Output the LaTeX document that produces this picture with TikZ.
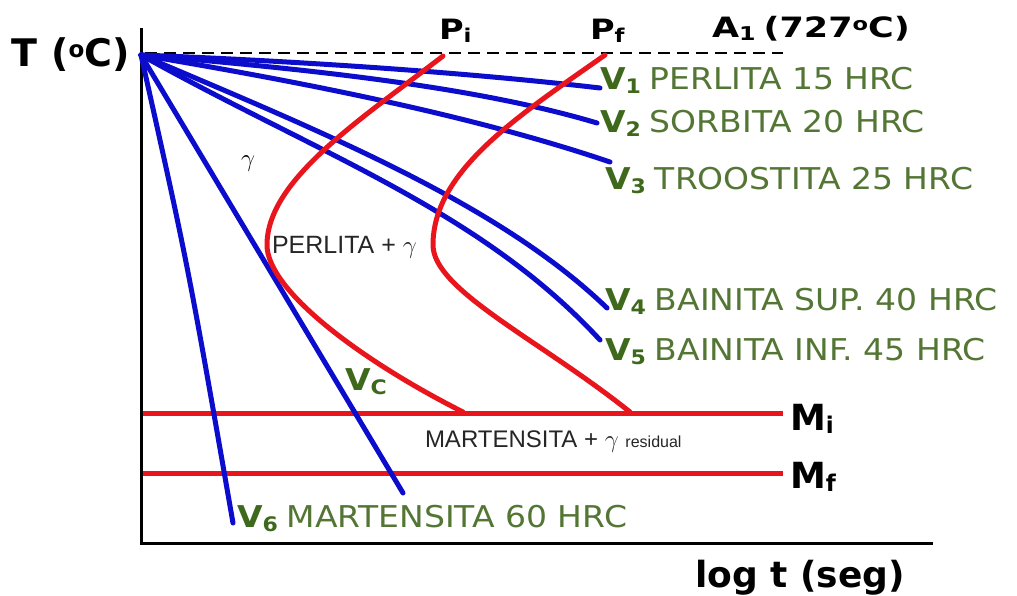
\documentclass[tikz,border=0pt]{standalone}
\usepackage{fontspec}
\setmainfont{DejaVu Sans}
\newfontfamily\labfont[FakeStretch=1.1]{DejaVu Sans}
\newfontfamily\widefont[FakeStretch=1.2]{DejaVu Sans}
\newfontfamily\widerfont[FakeStretch=1.25]{DejaVu Sans}
\newfontfamily\plainfont{Liberation Sans}
\definecolor{cblue}{RGB}{12,12,205}
\definecolor{cred}{RGB}{232,22,28}
\definecolor{gV}{RGB}{62,104,28}
\definecolor{gT}{RGB}{84,118,52}
\newcommand\fs[1]{\fontsize{#1}{#1}\selectfont}
\newcommand\vlab[2]{{\labfont\fs{30}{\color{gV}\bfseries V\raisebox{-4pt}{\fs{20}#1}}\hspace{9pt}{\color{gT}#2}}}
\newcommand\degsup{\raisebox{9pt}{\fs{23}o}}
\tikzset{
  coolline/.style={draw=cblue, line width=5pt, line cap=round},
  ttt/.style={draw=cred, line width=5pt, line cap=round},
  mline/.style={draw=cred, line width=5pt},
  lbl/.style={anchor=base west, inner sep=0pt, outer sep=0pt},
  axisline/.style={draw=black, line width=3pt},
  a1line/.style={draw=black, line width=2.5pt, dash pattern=on 12pt off 7pt},
}
\begin{document}
\begin{tikzpicture}[x=1pt,y=-1pt]
\useasboundingbox (0,0) rectangle (1017,596);
\fill[white] (0,0) rectangle (1017,596);
% coordinates
\coordinate (O) at (141,55);
\coordinate (ytop) at (141,28);
\coordinate (corner) at (141,543);
\coordinate (xend) at (933,543);
\coordinate (dl) at (145,53);
\coordinate (dr) at (783,53);
\coordinate (mil) at (143,413);
\coordinate (mir) at (783,413);
\coordinate (mfl) at (143,473);
\coordinate (mfr) at (783,473);
\coordinate (e1) at (600,88);
\coordinate (e2) at (597,123);
\coordinate (e3) at (610,162);
\coordinate (e4) at (607,308);
\coordinate (e5) at (600,340);
\coordinate (ec) at (403,493);
\coordinate (e6) at (233,523);
\coordinate (pis) at (443,56);
\coordinate (pin) at (267,245);
\coordinate (pie) at (463,412);
\coordinate (pfs) at (605,55);
\coordinate (pfn) at (433,245);
\coordinate (pfe) at (630,412);
% axes
\draw[axisline] (ytop) -- (corner) -- (xend);
\draw[a1line] (dl) -- (dr);
% Mi, Mf
\draw[mline] (mil) -- (mir);
\draw[mline] (mfl) -- (mfr);
% cooling curves
\draw[coolline] (O) .. controls (320,62) and (480,74) .. (e1);
\draw[coolline] (O) .. controls (320,70) and (480,88) .. (e2);
\draw[coolline] (O) .. controls (320,85) and (480,118) .. (e3);
\draw[coolline] (O) .. controls (330,135) and (500,205) .. (e4);
\draw[coolline] (O) .. controls (320,155) and (480,210) .. (e5);
\draw[coolline] (O) -- (ec);
\draw[coolline] (O) .. controls (188,265) .. (e6);
% TTT curves
\draw[ttt] (pis) .. controls (360,120) and (267,180) .. (pin) .. controls (267,290) and (360,360) .. (pie);
\draw[ttt] (pfs) .. controls (520,115) and (433,170) .. (pfn) .. controls (433,290) and (540,340) .. (pfe);
% labels
\node[lbl, font=\bfseries\fs{38}] (tlab) at (12,67) {T (\degsup C)};
\node[lbl, font=\widefont\bfseries\fs{28}] (pilab) at (439,40) {P\raisebox{-3pt}{\fs{19}i}};
\node[lbl, font=\widefont\bfseries\fs{28}] (pflab) at (590,40) {P\raisebox{-3pt}{\fs{19}f}};
\node[lbl, font=\widerfont\bfseries\fs{28}] (a1lab) at (712,38) {A\raisebox{-3pt}{\fs{19}1}\hspace{8pt}(727\raisebox{7pt}{\fs{18}o}C)};
\node[lbl] (v1) at (600,90) {\vlab{1}{PERLITA 15 HRC}};
\node[lbl] (v2) at (600,133) {\vlab{2}{SORBITA 20 HRC}};
\node[lbl] (v3) at (605,190) {\vlab{3}{TROOSTITA 25 HRC}};
\node[lbl] (v4) at (605,310) {\vlab{4}{BAINITA SUP. 40 HRC}};
\node[lbl] (v5) at (605,360) {\vlab{5}{BAINITA INF. 45 HRC}};
\node[lbl] (v6) at (237,527) {\vlab{6}{MARTENSITA 60 HRC}};
\node[lbl, font=\labfont\bfseries\fs{30}, text=gV] (vc) at (345,390) {V\raisebox{-4pt}{\fs{20}C}};
\node[lbl, font=\bfseries\fs{36}] (mi) at (790,430) {M\raisebox{-3pt}{\fs{23}i}};
\node[lbl, font=\bfseries\fs{36}] (mf) at (790,488) {M\raisebox{-3pt}{\fs{23}f}};
\node[lbl, font=\bfseries\fs{36}] (xlab) at (695,587) {log t (seg)};
\node[lbl, font=\fs{24}] (gam) at (241,167) {$\gamma$};
\node[lbl, font=\plainfont\fs{25}, text=black!85] (plg) at (272,253) {PERLITA + $\gamma$};
\node[lbl, font=\plainfont\fs{24}, text=black!85] (mgr) at (425,447) {MARTENSITA + $\gamma$ {\fs{16}residual}};
\end{tikzpicture}
\end{document}
